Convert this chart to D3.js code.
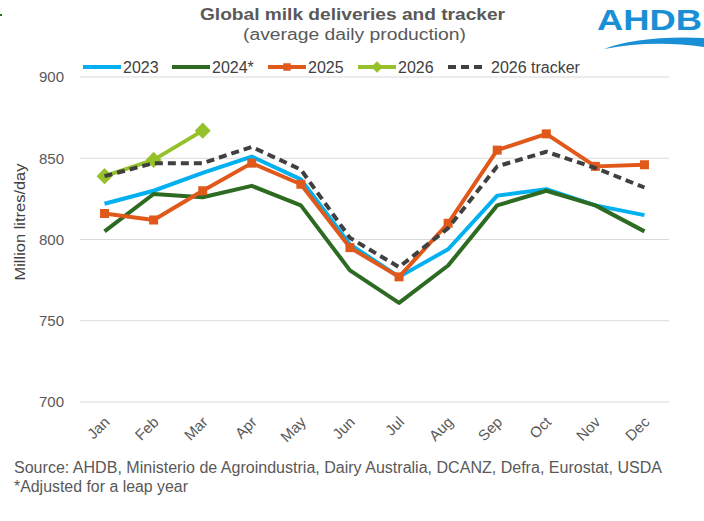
<!DOCTYPE html>
<html>
<head>
<meta charset="utf-8">
<script src="https://cdn.jsdelivr.net/npm/d3@7"></script>
<style>
  body { margin: 0; background: #fff; }
  svg { font-family: "Liberation Sans", Arial, sans-serif; }
</style>
</head>
<body>
<div id="chart"></div>
<script>
'use strict';

const months = ['Jan', 'Feb', 'Mar', 'Apr', 'May', 'Jun', 'Jul', 'Aug', 'Sep', 'Oct', 'Nov', 'Dec'];
const yTicks = [700, 750, 800, 850, 900];

const v2023 = [822, 830, 841, 851, 837, 797, 777, 794, 827, 831, 821, 815];
const v2024 = [805, 828, 826, 833, 821, 781, 761, 784, 821, 830, 821, 805];
const v2025 = [816, 812, 830, 847, 834, 795, 777, 810, 855, 865, 845, 846];
const v2026 = [839, 849, 867];
const vTracker = [839, 847, 847, 857, 843, 801, 783, 807, 845, 854, 844, 832];

const series = [
    {name: '2023', values: v2023, color: '#00b0f0', marker: null, dash: null},
    {name: '2024*', values: v2024, color: '#2d6b22', marker: null, dash: null},
    {name: '2025', values: v2025, color: '#e0591b', marker: 'square', dash: null},
    {name: '2026', values: v2026, color: '#95c12b', marker: 'diamond', dash: null},
    {name: '2026 tracker', values: vTracker, color: '#404040', marker: null, dash: '8,5'}
];

const width = 704, height = 521;
const margin = {top: 77, right: 35, bottom: 119, left: 80};

const svg = d3.select('#chart')
  .append('svg')
    .attr('width', width)
    .attr('height', height);

const x = d3.scaleBand()
  .domain(months)
  .range([margin.left, width - margin.right]);

const y = d3.scaleLinear()
  .domain([700, 900])
  .range([height - margin.bottom, margin.top]);

function markerPath(size) {
    // squares; diamonds are the same square turned by 45 degrees
    return d3.symbol(d3.symbolSquare, size)();
}

// gridlines
svg.append('g')
  .selectAll('line')
  .data(yTicks)
  .join('line')
    .attr('x1', margin.left)
    .attr('x2', width - margin.right)
    .attr('y1', d => y(d))
    .attr('y2', d => y(d))
    .attr('stroke', '#d9d9d9')
    .attr('stroke-width', 1);

// y axis labels
const yAxis = svg.append('g')
  .attr('transform', `translate(${margin.left - 16},0)`)
  .call(d3.axisLeft(y).tickValues(yTicks).tickSize(0).tickPadding(0));
yAxis.select('.domain').remove();
yAxis.selectAll('text')
  .attr('font-size', 15)
  .attr('fill', '#595959')
  .attr('font-family', '"Liberation Sans", Arial, sans-serif');

// x axis labels
const xAxis = svg.append('g')
  .attr('transform', `translate(0,${height - margin.bottom})`)
  .call(d3.axisBottom(x).tickSize(0).tickPadding(0));
xAxis.select('.domain').remove();
xAxis.selectAll('text')
  .attr('font-size', 15)
  .attr('fill', '#595959')
  .attr('font-family', '"Liberation Sans", Arial, sans-serif')
  .attr('text-anchor', 'end')
  .attr('dy', null)
  .attr('transform', 'translate(6,21)rotate(-45)');

// y axis title
svg.append('text')
  .attr('transform', 'translate(25,222)rotate(-90)')
  .attr('text-anchor', 'middle')
  .attr('font-size', 15)
  .attr('fill', '#404040')
  .attr('textLength', 117)
  .attr('lengthAdjust', 'spacingAndGlyphs')
  .text('Million litres/day');

const line = d3.line()
  .x((d, i) => x(months[i]) + x.bandwidth() / 2)
  .y(d => y(d));

series.forEach(s => {
    svg.append('path')
      .datum(s.values)
      .attr('fill', 'none')
      .attr('stroke', s.color)
      .attr('stroke-width', 4)
      .attr('stroke-linejoin', 'round')
      .attr('stroke-dasharray', s.dash)
      .attr('d', line);

    if (s.marker) {
        const size = s.marker === 'square' ? 81 : 128;
        const rot = s.marker === 'diamond' ? 45 : 0;
        svg.append('g')
          .selectAll('path')
          .data(s.values)
          .join('path')
            .attr('transform', (d, i) => `translate(${x(months[i]) + x.bandwidth() / 2},${y(d)})rotate(${rot})`)
            .attr('d', markerPath(size))
            .attr('fill', s.color);
    }
});

// legend
const legendX = [83, 172, 268, 358, 448];
const legend = svg.append('g').attr('transform', 'translate(0,67)');
series.forEach((s, i) => {
    const g = legend.append('g').attr('transform', `translate(${legendX[i]},0)`);
    g.append('line')
      .attr('x1', 0).attr('x2', 38)
      .attr('stroke', s.color)
      .attr('stroke-width', 4)
      .attr('stroke-dasharray', s.dash);
    if (s.marker) {
        const rot = s.marker === 'diamond' ? 45 : 0;
        g.append('path')
          .attr('transform', `translate(19,0)rotate(${rot})`)
          .attr('d', markerPath(s.marker === 'square' ? 56 : 64))
          .attr('fill', s.color);
    }
    g.append('text')
      .attr('x', s.dash ? 43 : 40)
      .attr('y', 6)
      .attr('font-size', 16)
      .attr('fill', '#404040')
      .text(s.name);
});

// title
svg.append('text')
  .attr('x', 200).attr('y', 20)
  .attr('font-size', 16)
  .attr('font-weight', 'bold')
  .attr('fill', '#595959')
  .attr('textLength', 305)
  .attr('lengthAdjust', 'spacingAndGlyphs')
  .text('Global milk deliveries and tracker');
svg.append('text')
  .attr('x', 243).attr('y', 40)
  .attr('font-size', 16)
  .attr('fill', '#595959')
  .attr('textLength', 223)
  .attr('lengthAdjust', 'spacingAndGlyphs')
  .text('(average daily production)');

// footer
svg.append('text')
  .attr('x', 14).attr('y', 473)
  .attr('font-size', 16)
  .attr('fill', '#595959')
  .attr('textLength', 648)
  .attr('lengthAdjust', 'spacingAndGlyphs')
  .text('Source: AHDB, Ministerio de Agroindustria, Dairy Australia, DCANZ, Defra, Eurostat, USDA');
svg.append('text')
  .attr('x', 14).attr('y', 492)
  .attr('font-size', 16)
  .attr('fill', '#595959')
  .attr('textLength', 174)
  .attr('lengthAdjust', 'spacingAndGlyphs')
  .text('*Adjusted for a leap year');

// logo
svg.append('text')
  .attr('x', 597).attr('y', 30)
  .attr('font-size', 30)
  .attr('font-weight', 'bold')
  .attr('fill', '#1a8fd6')
  .attr('textLength', 105)
  .attr('lengthAdjust', 'spacingAndGlyphs')
  .text('AHDB');
svg.append('path')
  .attr('d', 'M604,49 C628,40 662,36 704,38 L704,47 C668,42 636,43 604,49 Z')
  .attr('fill', '#1a8fd6');

// small edge marks
svg.append('rect').attr('x', 0).attr('y', 14).attr('width', 2).attr('height', 2).attr('fill', '#2d6b22');
</script>
</body>
</html>
